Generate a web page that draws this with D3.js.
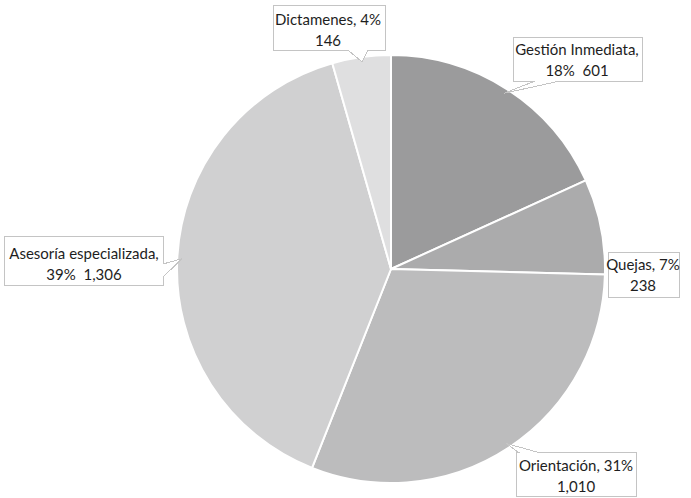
<!DOCTYPE html>
<html>
<head>
<meta charset="utf-8">
<script src="https://cdn.jsdelivr.net/npm/d3@7"></script>
<style>
  html, body { margin: 0; padding: 0; background: #ffffff; }
  svg { display: block; }
  text { font-family: Lato, "Open Sans", sans-serif; font-size: 15px; fill: #1e1e1e; white-space: pre; }
</style>
</head>
<body>
<svg id="chart" width="691" height="498"></svg>
<script>
// ---- data ----
const categories = ["Gestión Inmediata", "Quejas", "Orientación", "Asesoría especializada", "Dictamenes"];
const values = [601, 238, 1010, 1306, 146];
const percentLabels = ["18%", "7%", "31%", "39%", "4%"];
const sliceColors = ["#9b9b9c", "#ababac", "#bcbcbd", "#d0d0d1", "#dfdfe0"];
// label line style: "nameBreak" -> "Name," / "pct  value"; "pctLine" -> "Name, pct" / "value"
const labelStyles = ["nameBreak", "pctLine", "pctLine", "nameBreak", "pctLine"];

// ---- layout (positions, not data) ----
const W = 691, H = 498;
const cx = 391, cy = 269, R = 214;
const labelLayout = [
  { x: 577, y: 50, box: [513, 37, 642, 81], side: "bottom", base: [535, 560] },
  { x: 643, y: 265, box: [608, 252, 679, 297], side: "none", base: [0, 0] },
  { x: 576, y: 466, box: [516, 452, 636, 496], side: "top", base: [518, 537] },
  { x: 84, y: 254, box: [4, 236, 163, 285], side: "right", base: [264, 277] },
  { x: 328, y: 20, box: [273, 5, 385, 50], side: "bottom", base: [348, 368] }
];

const svg = d3.select("#chart");
const fmt = d3.format(",");

const pie = d3.pie().sort(null).value(d => d)(values);
const arc = d3.arc().innerRadius(0).outerRadius(R);

const g = svg.append("g").attr("transform", `translate(${cx},${cy})`);
g.selectAll("path.slice")
  .data(pie)
  .join("path")
  .attr("class", "slice")
  .attr("d", arc)
  .attr("fill", (d, i) => sliceColors[i])
  .attr("stroke", "#ffffff")
  .attr("stroke-width", 2)
  .attr("stroke-linejoin", "round");

// callouts
const anchorArc = d3.arc().innerRadius(R - 5).outerRadius(R - 5);
function calloutPath(L, apex) {
  const [x0, y0, x1, y1] = L.box;
  const [b0, b1] = L.base;
  const [ax, ay] = apex;
  let p;
  if (L.side === "bottom") {
    p = [[x0, y0], [x1, y0], [x1, y1], [b1, y1], [ax, ay], [b0, y1], [x0, y1]];
  } else if (L.side === "top") {
    p = [[x0, y0], [b0, y0], [ax, ay], [b1, y0], [x1, y0], [x1, y1], [x0, y1]];
  } else if (L.side === "left") {
    p = [[x0, y0], [x1, y0], [x1, y1], [x0, y1], [x0, b1], [ax, ay], [x0, b0]];
  } else if (L.side === "right") {
    p = [[x0, y0], [x1, y0], [x1, b0], [ax, ay], [x1, b1], [x1, y1], [x0, y1]];
  } else {
    p = [[x0, y0], [x1, y0], [x1, y1], [x0, y1]];
  }
  return "M" + p.map(q => q.join(",")).join("L") + "Z";
}

const labels = svg.append("g");
pie.forEach((d, i) => {
  const L = labelLayout[i];
  const c = anchorArc.centroid(d);
  const apex = [c[0] + cx, c[1] + cy];
  labels.append("path")
    .attr("d", calloutPath(L, apex))
    .attr("fill", "#ffffff")
    .attr("stroke", "#c4c4c4")
    .attr("stroke-width", 1)
    .attr("shape-rendering", "crispEdges");
  let l1, l2;
  if (labelStyles[i] === "nameBreak") {
    l1 = categories[i] + ",";
    l2 = percentLabels[i] + "  " + fmt(values[i]);
  } else {
    l1 = categories[i] + ", " + percentLabels[i];
    l2 = fmt(values[i]);
  }
  const t = labels.append("text")
    .attr("x", L.x)
    .attr("text-anchor", "middle")
    .attr("xml:space", "preserve");
  t.append("tspan").attr("x", L.x).attr("y", L.y).attr("dy", "0.35em").text(l1);
  t.append("tspan").attr("x", L.x).attr("y", L.y + 21).attr("dy", "0.35em").text(l2);
});
</script>
</body>
</html>
